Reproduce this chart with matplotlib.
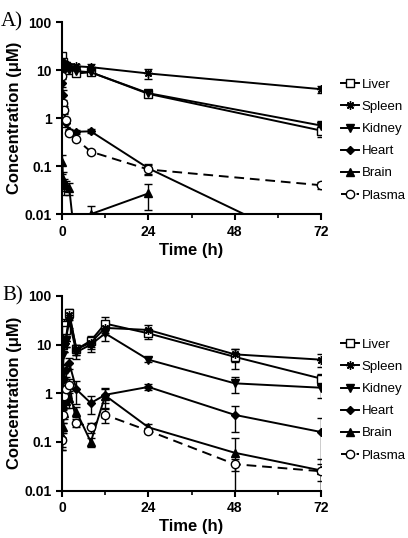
import numpy as np
import matplotlib
matplotlib.use("Agg")
import matplotlib.pyplot as plt
from matplotlib.lines import Line2D

plt.rcParams['font.family'] = ['Liberation Sans', 'DejaVu Sans']

# sampling times (h)
t_a = [0.083, 0.25, 0.5, 1, 2, 4, 8, 24, 72]
t_b = [0.083, 0.25, 0.5, 1, 2, 4, 8, 12, 24, 48, 72]

organs = ["Liver", "Spleen", "Kidney", "Heart", "Brain", "Plasma"]

# panel A: concentration (uM) and error
liver_a = [20, 15, 13, 12, 10, 8.5, 9, 3.2, 0.55]
liver_a_err = [3, 2, 2, 1.5, 1, 1, 1, 0.5, 0.15]
spleen_a = [15, 14, 13, 13, 12, 12, 11.5, 8.5, 4.0]
spleen_a_err = [2, 2, 2, 2, 1.5, 1.5, 2, 2, 0.7]
kidney_a = [12, 12, 11, 11, 10, 9.5, 9, 3.3, 0.7]
kidney_a_err = [2, 2, 1.5, 1.5, 1, 1, 1, 0.4, 0.15]
heart_a = [5.5, 3.0, 1.5, 0.8, 0.55, 0.52, 0.53, 0.09, 0.0017]
heart_a_err = [1, 0.8, 0.3, 0.15, 0.05, 0.05, 0.05, 0.02, 0]
brain_a = [0.12, 0.055, 0.04, 0.04, 0.035, 0.0015, 0.01, 0.027, np.nan]
brain_a_err = [0.05, 0.02, 0.015, 0.01, 0.01, 0, 0.005, 0.015, 0]
plasma_a = [7.7, 2.1, 1.46, 0.91, 0.49, 0.36, 0.2, 0.085, 0.04]
plasma_a_err = [1, 0.3, 0.2, 0.1, 0.05, 0.03, 0.02, 0.02, 0.006]

# panel B
liver_b = [1.8, 10, 25, 20, 45, 8, 12, 27, 17, 5.6, 2.0]
liver_b_err = [0.5, 3, 8, 5, 8, 2, 3, 10, 4, 2.5, 0.5]
spleen_b = [0.4, 3, 10, 12, 40, 8, 11, 22, 20, 6.3, 4.9]
spleen_b_err = [0.1, 1, 3, 3, 8, 2, 3, 6, 5, 2, 1.5]
kidney_b = [2.5, 6, 10, 12, 30, 7, 10, 17, 4.9, 1.6, 1.3]
kidney_b_err = [0.8, 2, 3, 3, 8, 2, 3, 5, 0.6, 0.6, 0.5]
heart_b = [0.12, 0.5, 2.0, 3.0, 4.2, 1.2, 0.63, 0.93, 1.35, 0.36, 0.16]
heart_b_err = [0.05, 0.15, 0.6, 0.8, 1, 0.6, 0.25, 0.3, 0.2, 0.2, 0.15]
brain_b = [0.13, 0.2, 0.4, 0.7, 0.8, 0.42, 0.1, 0.9, 0.2, 0.06, 0.026]
brain_b_err = [0.05, 0.05, 0.1, 0.2, 0.3, 0.1, 0.02, 0.4, 0.03, 0.06, 0.01]
plasma_b = [0.11, 0.35, 0.9, 1.2, 1.5, 0.25, 0.2, 0.36, 0.17, 0.035, 0.025]
plasma_b_err = [0.04, 0.1, 0.3, 0.3, 0.5, 0.05, 0.05, 0.12, 0.02, 0.01, 0.02]

styles = {
    "Liver": dict(marker='s', mfc='white', ls='-'),
    "Spleen": dict(marker=(8, 2, 0), mfc='black', ls='-'),
    "Kidney": dict(marker='v', mfc='black', ls='-'),
    "Heart": dict(marker='D', mfc='black', ls='-', ms=4.5),
    "Brain": dict(marker='^', mfc='black', ls='-'),
    "Plasma": dict(marker='o', mfc='white', ls=(0, (5, 3))),
}

panels = [
    ("A)", t_a, [liver_a, spleen_a, kidney_a, heart_a, brain_a, plasma_a],
     [liver_a_err, spleen_a_err, kidney_a_err, heart_a_err, brain_a_err, plasma_a_err],
     [0.152, 0.602, 0.635, 0.357], 0.385),
    ("B)", t_b, [liver_b, spleen_b, kidney_b, heart_b, brain_b, plasma_b],
     [liver_b_err, spleen_b_err, kidney_b_err, heart_b_err, brain_b_err, plasma_b_err],
     [0.152, 0.088, 0.635, 0.362], 0.465),
]

fig = plt.figure(figsize=(4.08, 5.38), dpi=100)

for label, t, series, errs, rect, leg_y in panels:
    ax = fig.add_axes(rect)
    handles = []
    for name, y, e in zip(organs, series, errs):
        st = dict(styles[name])
        ms = st.pop('ms', 6)
        y = np.array(y, dtype=float)
        e = np.array(e, dtype=float)
        lo = np.minimum(e, y * 0.999)
        ax.errorbar(t, y, yerr=[lo, e], color='black', lw=1.4, ms=ms, mec='black',
                    mew=1.0, capsize=3, elinewidth=1.0, capthick=1.0, **st)
        handles.append(Line2D([], [], color='black', lw=1.4, ms=ms, mec='black',
                              mew=1.0, label=name, **st))
    ax.set_yscale('log')
    ax.set_ylim(0.01, 100)
    ax.set_xlim(0, 72)
    ax.set_xticks([0, 24, 48, 72])
    ax.set_xticks([12, 36, 60], minor=True)
    ax.set_yticks([0.01, 0.1, 1, 10, 100])
    ax.set_yticklabels(["0.01", "0.1", "1", "10", "100"])
    ax.yaxis.set_minor_locator(matplotlib.ticker.NullLocator())
    ax.spines['top'].set_visible(False)
    ax.spines['right'].set_visible(False)
    for s in ('left', 'bottom'):
        ax.spines[s].set_linewidth(1.5)
    ax.tick_params(which='major', direction='out', length=4, width=1.5, labelsize=10)
    ax.tick_params(which='minor', direction='out', length=3, width=1.2)
    for lab in ax.get_xticklabels() + ax.get_yticklabels():
        lab.set_fontweight('bold')
    ax.set_xlabel("Time (h)", fontsize=12, fontweight='bold', labelpad=3)
    ax.set_ylabel("Concentration (\u03bcM)", fontsize=12, fontweight='bold', labelpad=2)
    ax.text(-0.15, 1.0, label, transform=ax.transAxes, fontsize=15,
            family='Liberation Serif', va='center', ha='right')
    ax.legend(handles=handles, loc='center left', bbox_to_anchor=(1.04, leg_y),
              frameon=False, fontsize=9.5, handlelength=1.4, handletextpad=0.2,
              labelspacing=0.75, borderaxespad=0.3)

fig.savefig("out.png", dpi=100)
